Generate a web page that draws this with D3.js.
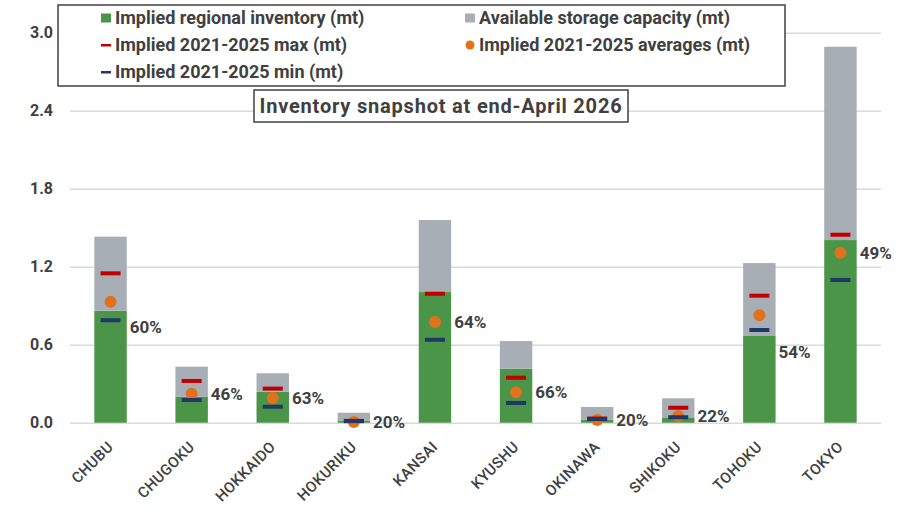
<!DOCTYPE html>
<html>
<head>
<meta charset="utf-8">
<script src="https://cdn.jsdelivr.net/npm/d3@7"></script>
<style>
  body { margin: 0; background: #fff; }
  svg text { font-family: Roboto, "Noto Sans", sans-serif; fill: #404040; }
</style>
</head>
<body>
<svg width="906" height="510"></svg>
<script>
// values (million tonnes)
var regions = ["CHUBU", "CHUGOKU", "HOKKAIDO", "HOKURIKU", "KANSAI", "KYUSHU", "OKINAWA", "SHIKOKU", "TOHOKU", "TOKYO"];
var inventory = [0.862, 0.199, 0.238, 0.0155, 1.005, 0.415, 0.024, 0.041, 0.667, 1.405];
var available = [0.569, 0.232, 0.142, 0.0615, 0.554, 0.213, 0.097, 0.147, 0.561, 1.487];
var maxes = [1.149, 0.321, 0.262, 0.014, 0.992, 0.346, 0.032, 0.115, 0.977, 1.446];
var avgs = [0.931, 0.223, 0.190, 0.006, 0.775, 0.234, 0.021, 0.052, 0.826, 1.308];
var mins = [0.788, 0.175, 0.123, 0.012, 0.638, 0.152, 0.028, 0.042, 0.713, 1.098];
var yTicks = [0, 0.6, 1.2, 1.8, 2.4, 3.0];

var GREEN = "#4b9549", GREY = "#a7aeb6", RED = "#c00000", NAVY = "#1f3864", ORANGE = "#e2711d";

var svg = d3.select("svg");

var x = d3.scaleBand().domain(regions).range([70, 881]).paddingInner(0.6).paddingOuter(0.3);
var y = d3.scaleLinear().domain([0, 3.0]).range([422.7, 32.7]);

// gridlines + y labels
var yAxis = d3.axisLeft(y).tickValues(yTicks).tickFormat(d3.format(".1f")).tickSize(-(881 - 70)).tickPadding(17);
var ga = svg.append("g").attr("transform", "translate(70,0)").call(yAxis);
ga.select(".domain").remove();
ga.selectAll("line").attr("stroke", "#d9d9d9").attr("stroke-width", 1.5);
ga.selectAll("text").attr("font-size", 16).attr("font-weight", "bold").attr("fill", "#404040");

var rows = regions.map(function(r, i) {
  return { region: r, inv: inventory[i], avail: available[i], max: maxes[i], avg: avgs[i], min: mins[i] };
});

var bw = x.bandwidth();

// stacked bars
svg.selectAll("rect.inv").data(rows).enter().append("rect")
  .attr("x", function(d) { return x(d.region); })
  .attr("width", bw)
  .attr("y", function(d) { return y(d.inv); })
  .attr("height", function(d) { return y(0) - y(d.inv); })
  .attr("fill", GREEN);

svg.selectAll("rect.avail").data(rows).enter().append("rect")
  .attr("x", function(d) { return x(d.region); })
  .attr("width", bw)
  .attr("y", function(d) { return y(d.inv + d.avail); })
  .attr("height", function(d) { return y(d.inv) - y(d.inv + d.avail); })
  .attr("fill", GREY);

// averages
svg.selectAll("circle.avg").data(rows).enter().append("circle")
  .attr("cx", function(d) { return x(d.region) + bw / 2; })
  .attr("cy", function(d) { return y(d.avg); })
  .attr("r", 6)
  .attr("fill", ORANGE);

// max / min dashes
var dashW = 20;
function dashes(key, color) {
  svg.selectAll("rect." + key).data(rows).enter().append("rect")
    .attr("x", function(d) { return x(d.region) + bw / 2 - dashW / 2; })
    .attr("y", function(d) { return y(d[key]) - 2; })
    .attr("width", dashW)
    .attr("height", 4)
    .attr("fill", color);
}
dashes("max", RED);
dashes("min", NAVY);

// percentage labels
svg.selectAll("text.pct").data(rows).enter().append("text")
  .attr("x", function(d) { return x(d.region) + bw + 3; })
  .attr("y", function(d) {
    // label sits at the average, unless that is well above the green bar
    if (d.avg - d.inv > 0.05) return y(d.inv) + 16;
    return y(d.avg);
  })
  .attr("dy", "0.36em")
  .attr("font-size", 17)
  .attr("font-weight", "bold")
  .text(function(d) { return Math.round(100 * d.inv / (d.inv + d.avail)) + "%"; });

// x labels
svg.selectAll("text.xl").data(regions).enter().append("text")
  .attr("transform", function(d) { return "translate(" + (x(d) + bw / 2) + ",444) rotate(-45)"; })
  .attr("text-anchor", "end")
  .attr("dy", "0.35em")
  .attr("font-size", 15)
  .attr("font-weight", 500)
  .attr("letter-spacing", 0.4)
  .text(function(d) { return d; });

// legend
svg.append("rect").attr("x", 58).attr("y", 5).attr("width", 727).attr("height", 81)
  .attr("fill", "#fff").attr("stroke", "#404040").attr("stroke-width", 1.5);

var legend = [
  { label: "Implied regional inventory (mt)", type: "sq", color: GREEN, col: 0, row: 0 },
  { label: "Available storage capacity (mt)", type: "sq", color: GREY, col: 1, row: 0 },
  { label: "Implied 2021-2025 max (mt)", type: "dash", color: RED, col: 0, row: 1 },
  { label: "Implied 2021-2025 averages (mt)", type: "dot", color: ORANGE, col: 1, row: 1 },
  { label: "Implied 2021-2025 min (mt)", type: "dash", color: NAVY, col: 0, row: 2 }
];
var colX = [101, 465];
var lg = svg.selectAll("g.lg").data(legend).enter().append("g")
  .attr("transform", function(d) { return "translate(" + colX[d.col] + "," + (18 + d.row * 27) + ")"; });
lg.each(function(d) {
  var g = d3.select(this);
  if (d.type === "sq") g.append("rect").attr("x", 0).attr("y", -4.5).attr("width", 10).attr("height", 9).attr("fill", d.color);
  if (d.type === "dash") g.append("rect").attr("x", 0).attr("y", -1).attr("width", 10).attr("height", 2.5).attr("fill", d.color);
  if (d.type === "dot") g.append("circle").attr("cx", 5).attr("cy", 0).attr("r", 4.5).attr("fill", d.color);
});
lg.append("text").attr("x", 14).attr("dy", "0.36em").attr("font-size", 18).attr("font-weight", "bold")
  .text(function(d) { return d.label; });

// title box
svg.append("rect").attr("x", 254).attr("y", 90).attr("width", 374).attr("height", 32)
  .attr("fill", "#fff").attr("stroke", "#404040").attr("stroke-width", 1.5);
svg.append("text").attr("x", 441).attr("y", 106).attr("dy", "0.36em").attr("text-anchor", "middle")
  .attr("font-size", 20).attr("font-weight", "bold").attr("letter-spacing", 0.8)
  .text("Inventory snapshot at end-April 2026");
</script>
</body>
</html>
